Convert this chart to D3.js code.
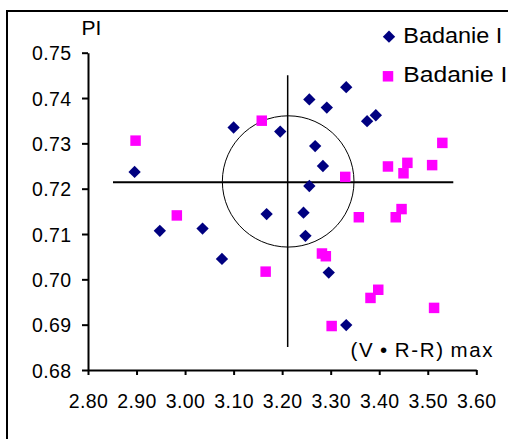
<!DOCTYPE html>
<html><head><meta charset="utf-8">
<script src="https://cdn.jsdelivr.net/npm/d3@7"></script>
<style>
html,body{margin:0;padding:0;background:#fff;overflow:hidden}
svg{display:block;font-family:"Liberation Sans",Arial,sans-serif}
</style></head>
<body>
<svg id="chart" width="508" height="439"></svg>
<script>
// ---- data ----
const seriesNames = ["Badanie I", "Badanie II"];
const badanie1X = [2.896, 3.100, 3.196, 3.332, 3.256, 3.292, 3.375, 3.393, 3.268, 3.284, 3.256, 2.948, 3.036, 3.076, 3.168, 3.244, 3.248, 3.296, 3.332];
const badanie1Y = [0.7237, 0.7335, 0.7326, 0.7424, 0.7397, 0.7379, 0.7349, 0.7362, 0.7294, 0.7250, 0.7206, 0.7107, 0.7112, 0.7045, 0.7144, 0.7147, 0.7096, 0.7015, 0.6899];
const badanie2X = [2.898, 3.158, 3.330, 3.418, 3.458, 3.450, 3.509, 3.530, 2.983, 3.166, 3.358, 3.434, 3.446, 3.282, 3.290, 3.382, 3.398, 3.513, 3.302];
const badanie2Y = [0.7306, 0.7350, 0.7226, 0.7249, 0.7257, 0.7234, 0.7252, 0.7301, 0.7141, 0.7017, 0.7137, 0.7137, 0.7155, 0.7057, 0.7051, 0.6959, 0.6977, 0.6937, 0.6897];
const xTicks = [2.80, 2.90, 3.00, 3.10, 3.20, 3.30, 3.40, 3.50, 3.60];
const yTicks = [0.68, 0.69, 0.70, 0.71, 0.72, 0.73, 0.74, 0.75];
// crosshair (mean values) and circle annotation, in data units
const crossCenter = [3.2114, 0.7214];
const crossHExtent = [2.8515, 3.5526];
const crossVExtent = [0.6851, 0.7450];
const circleCenter = [3.2124, 0.7216];
const circleRadius = [0.1356, 0.01448];
const yTitle = "PI";
const xTitle = "(V\u2009\u2022\u2009R-R)\u2009max";

// ---- layout ----
const svg = d3.select("#chart");
const x = d3.scaleLinear().domain([2.8, 3.6]).range([88, 476.3]);
const y = d3.scaleLinear().domain([0.68, 0.75]).range([370, 52.7]);
const colors = ["#000080", "#FF00FF"];

// outer border (extends past right/bottom edges)
svg.append("rect").attr("x", 7).attr("y", 11).attr("width", 540).attr("height", 460)
  .attr("fill", "none").attr("stroke", "#000").attr("stroke-width", 2);

// axes
const yAxis = svg.append("g").attr("transform", `translate(${x(2.8)},0)`)
  .call(d3.axisLeft(y).tickValues(yTicks).tickFormat(d3.format(".2f")).tickSize(6).tickSizeOuter(0));
const xAxis = svg.append("g").attr("transform", `translate(0,${y(0.68)})`)
  .call(d3.axisBottom(x).tickValues(xTicks).tickFormat(d3.format(".2f")).tickSize(5).tickSizeOuter(0));
[xAxis, yAxis].forEach(g => {
  g.select(".domain").attr("stroke", "#000").attr("stroke-width", 2);
  g.selectAll(".tick line").attr("stroke", "#000").attr("stroke-width", 2);
  g.selectAll("text").attr("fill", "#000").attr("font-size", 19.5).attr("letter-spacing", 0.4)
    .attr("font-family", "Liberation Sans, Arial, sans-serif");
});
yAxis.selectAll("text").attr("x", -16.5).attr("dy", 7.2);
xAxis.selectAll("text").attr("y", 38.3).attr("dy", 0);

// crosshair
svg.append("line").attr("x1", x(crossHExtent[0])).attr("x2", x(crossHExtent[1]))
  .attr("y1", y(crossCenter[1])).attr("y2", y(crossCenter[1]))
  .attr("stroke", "#000").attr("stroke-width", 2);
svg.append("line").attr("x1", x(crossCenter[0])).attr("x2", x(crossCenter[0]))
  .attr("y1", y(crossVExtent[0])).attr("y2", y(crossVExtent[1]))
  .attr("stroke", "#000").attr("stroke-width", 1.5);

// circle
const circPts = d3.range(0, 361, 6).map(a => {
  const t = a * Math.PI / 180;
  return [x(circleCenter[0] + circleRadius[0] * Math.cos(t)), y(circleCenter[1] + circleRadius[1] * Math.sin(t))];
});
svg.append("path").attr("d", d3.line()(circPts)).attr("fill", "none").attr("stroke", "#000").attr("stroke-width", 1);

// points
const diamond = d3.symbol().type(d3.symbolSquare).size(76)();
const square = d3.symbol().type(d3.symbolSquare).size(110)();
const s1 = badanie1X.map((v, i) => ({ x: v, y: badanie1Y[i] }));
const s2 = badanie2X.map((v, i) => ({ x: v, y: badanie2Y[i] }));
svg.append("g").selectAll("path").data(s2).join("path")
  .attr("d", square).attr("fill", colors[1])
  .attr("transform", d => `translate(${x(d.x)},${y(d.y)})`);
svg.append("g").selectAll("path").data(s1).join("path")
  .attr("d", diamond).attr("fill", colors[0])
  .attr("transform", d => `translate(${x(d.x)},${y(d.y)}) rotate(45)`);

// titles
svg.append("text").attr("x", 81.5).attr("y", 35).attr("font-size", 21).text(yTitle);
svg.append("text").attr("x", 350.5).attr("y", 356.7).attr("font-size", 20.5)
  .attr("textLength", 142).attr("lengthAdjust", "spacing").text(xTitle);

// legend
const leg = svg.append("g");
leg.append("path").attr("d", diamond).attr("fill", colors[0]).attr("transform", "translate(389,36.7) rotate(45)");
leg.append("text").attr("x", 403.3).attr("y", 42.7).attr("font-size", 22).attr("textLength", 99).attr("lengthAdjust", "spacingAndGlyphs").text(seriesNames[0]);
leg.append("path").attr("d", square).attr("fill", colors[1]).attr("transform", "translate(388,76.3)");
leg.append("text").attr("x", 403.3).attr("y", 81.7).attr("font-size", 22).attr("textLength", 111).attr("lengthAdjust", "spacingAndGlyphs").text(seriesNames[1]);
</script>
</body></html>
